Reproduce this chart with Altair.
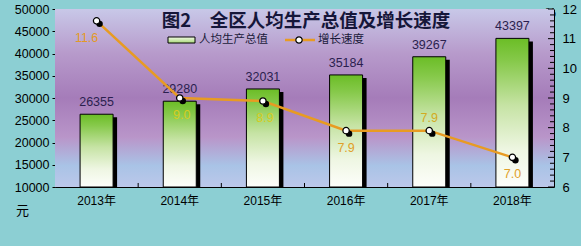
import altair as alt
import pandas as pd

# ---- data ----
years = ["2013年", "2014年", "2015年", "2016年", "2017年", "2018年"]
gdp = [26355, 29280, 32031, 35184, 39267, 43397]
growth = [11.6, 9.0, 8.9, 7.9, 7.9, 7.0]
gdp_ticks = [10000, 15000, 20000, 25000, 30000, 35000, 40000, 45000, 50000]
growth_ticks = [6, 7, 8, 9, 10, 11, 12]
growth_minor = [round(6 + i * 0.2, 1) for i in range(31)]
title_text = "图2　全区人均生产总值及增长速度"
legend_bar = "人均生产总值"
legend_line = "增长速度"
unit_left = "元"
unit_right = "%"

df = pd.DataFrame({"year": years, "gdp": gdp, "growth": growth})
one = pd.DataFrame({"k": [0]})
minor_df = pd.DataFrame({"v": growth_minor,
                         "major": [abs(v - round(v)) < 0.01 for v in growth_minor]})

W, H = 499, 178
FONT = "Liberation Sans, Arial, Noto Sans CJK SC"
CJK = "Noto Sans CJK SC"
ORANGE = "#e89b22"

x_enc = alt.X(
    "year:N", sort=years,
    scale=alt.Scale(paddingInner=0, paddingOuter=0),
    axis=alt.Axis(title=None, labelFont=FONT, labelFontSize=12, labelColor="black",
                  labelPadding=8, ticks=False, domainColor="black", labelAngle=0),
)
gdp_scale = alt.Scale(domain=[10000, 50000], zero=False, nice=False)
gr_scale = alt.Scale(domain=[6, 12], zero=False, nice=False)

left_axis = alt.Axis(values=gdp_ticks, tickCount=20, format="d", labelOverlap=False,
                     title=unit_left, titleAngle=0, titleX=-33, titleY=201,
                     titleAlign="center", titleBaseline="middle", titleFont=CJK,
                     titleFontWeight="normal", titleFontSize=13, titleColor="black",
                     labelFont=FONT, labelFontSize=12.5, labelColor="black", labelPadding=3,
                     tickSize=3, tickColor="black", domainColor="black", grid=False)
right_axis = alt.Axis(orient="right", values=growth_ticks, tickCount=20, format="d", ticks=False,
                      domainColor="black",
                      labelOverlap=False, labelPadding=8, labelFont=FONT, labelFontSize=13,
                      labelColor="black",
                      title=unit_right, titleAngle=0, titleX=-4, titleY=3, titleAlign="center",
                      titleBaseline="middle", titleFontSize=12, titleFontWeight="normal",
                      titleColor="black", titleFont=FONT, grid=False)

bg_grad = alt.LinearGradient(gradient="linear", x1=0, x2=0, y1=0, y2=1, stops=[
    alt.GradientStop(offset=0, color="#c8c8e8"),
    alt.GradientStop(offset=0.25, color="#b79acb"),
    alt.GradientStop(offset=0.5, color="#a57cb9"),
    alt.GradientStop(offset=0.72, color="#b995c9"),
    alt.GradientStop(offset=0.88, color="#a9c3e6"),
    alt.GradientStop(offset=1, color="#bcc8ea"),
])
bar_grad = alt.LinearGradient(gradient="linear", x1=0, x2=0, y1=0, y2=1, stops=[
    alt.GradientStop(offset=0, color="#6bbd26"),
    alt.GradientStop(offset=0.15, color="#86c94a"),
    alt.GradientStop(offset=0.45, color="#c6e3a4"),
    alt.GradientStop(offset=0.75, color="#eef6e2"),
    alt.GradientStop(offset=1, color="#fdfefb"),
])
leg_grad = alt.LinearGradient(gradient="linear", x1=0, x2=0, y1=0, y2=1, stops=[
    alt.GradientStop(offset=0, color="#f4fbe8"),
    alt.GradientStop(offset=1, color="#a8d878"),
])

base = alt.Chart(df)
y_gdp = alt.Y("gdp:Q", scale=gdp_scale, axis=left_axis)

background = alt.Chart(one).mark_rect(fill=bg_grad).encode(
    x=alt.value(0), x2=alt.value(W), y=alt.value(0), y2=alt.value(H))

shadow = base.mark_bar(width=33, color="black", xOffset=4, yOffset=3).encode(
    x=x_enc, y=y_gdp, y2=alt.datum(10000))
bars = base.mark_bar(width=33, fill=bar_grad, stroke="black", strokeWidth=1).encode(
    x=x_enc, y=y_gdp, y2=alt.datum(10000))
bar_labels = base.mark_text(baseline="bottom", dy=-5, fontSize=12.5, font=FONT, color="#2b1f4f").encode(
    x=x_enc, y=y_gdp, text="gdp:Q")
cat_ticks = base.transform_filter(alt.datum.year != years[0]).mark_rule(color="black").encode(
    x=alt.X("year:N", sort=years, bandPosition=0),
    y=alt.YDatum(10000, scale=gdp_scale, axis=left_axis), y2=alt.datum(10900))

title = alt.Chart(one).transform_calculate(t=f"'{title_text}'").mark_text(
    font=CJK, fontSize=18.5, fontWeight="bold", color="#15163a", align="center", baseline="middle"
).encode(x=alt.value(251), y=alt.value(11.5), text="t:N")
leg_rect = alt.Chart(one).mark_rect(fill=leg_grad, stroke="black", strokeWidth=1).encode(
    x=alt.value(113), x2=alt.value(140), y=alt.value(28), y2=alt.value(34))
leg_text1 = alt.Chart(one).transform_calculate(t=f"'{legend_bar}'").mark_text(
    font=CJK, fontSize=11.5, color="#1a1a3a", align="left", baseline="middle"
).encode(x=alt.value(144), y=alt.value(31), text="t:N")
leg_line = alt.Chart(one).mark_rule(color=ORANGE, strokeWidth=2.5).encode(
    x=alt.value(230), x2=alt.value(260), y=alt.value(31))
leg_pt = alt.Chart(one).mark_point(filled=True, fill="white", stroke="black", strokeWidth=1.2,
                                   size=40, opacity=1).encode(x=alt.value(244), y=alt.value(31))
leg_text2 = alt.Chart(one).transform_calculate(t=f"'{legend_line}'").mark_text(
    font=CJK, fontSize=11.5, color="#1a1a3a", align="left", baseline="middle"
).encode(x=alt.value(263), y=alt.value(31), text="t:N")

c1 = alt.layer(background, shadow, bars, bar_labels, cat_ticks, title,
               leg_rect, leg_text1, leg_line, leg_pt, leg_text2)

c2 = base.mark_line(color=ORANGE, strokeWidth=2.5).encode(
    x=x_enc, y=alt.Y("growth:Q", scale=gr_scale, axis=right_axis))

y_gr = alt.Y("growth:Q", scale=gr_scale, axis=None)
shadow_pts = base.mark_circle(color="black", size=42, opacity=1, xOffset=3, yOffset=3).encode(
    x=x_enc, y=y_gr)
pts = base.mark_point(filled=True, fill="white", stroke="black", strokeWidth=1.3,
                      size=40, opacity=1).encode(x=x_enc, y=y_gr)

minor_ticks = alt.Chart(minor_df).transform_filter(~alt.datum.major).mark_rule(
    color="black", strokeWidth=1).encode(
    y=alt.Y("v:Q", scale=gr_scale, axis=None), x=alt.value(W - 4), x2=alt.value(W))
major_ticks = alt.Chart(minor_df).transform_filter(alt.datum.major).mark_rule(
    color="black", strokeWidth=1).encode(
    y=alt.Y("v:Q", scale=gr_scale, axis=None), x=alt.value(W - 6), x2=alt.value(W))


def glabel(sel, color, dx, dy):
    return base.transform_filter(alt.FieldOneOfPredicate(field="year", oneOf=sel)).mark_text(
        font=FONT, fontSize=12.5, color=color, dx=dx, dy=dy, baseline="middle"
    ).encode(x=x_enc, y=y_gr, text=alt.Text("growth:Q", format=".1f"))


g1 = glabel([years[0]], "#e39a26", -10, 17)
g2 = glabel([years[1], years[2]], "#d6cc1e", 2, 17)
g3 = glabel([years[3], years[5]], "#e0a028", 0, 17)
g4 = glabel([years[4]], "#d2aa22", 0, -13)
c3 = alt.layer(minor_ticks, major_ticks, shadow_pts, pts, g1, g2, g3, g4)

chart = alt.layer(c1, c2, c3).resolve_scale(y="independent").properties(
    width=W, height=H,
    autosize=alt.AutoSizeParams(type="none"),
    padding={"left": 55, "top": 9, "right": 27, "bottom": 59},
    background="#8ccfd3",
).configure_view(stroke=None)

chart.save("out.html", embed_options={"renderer": "svg", "actions": False})
